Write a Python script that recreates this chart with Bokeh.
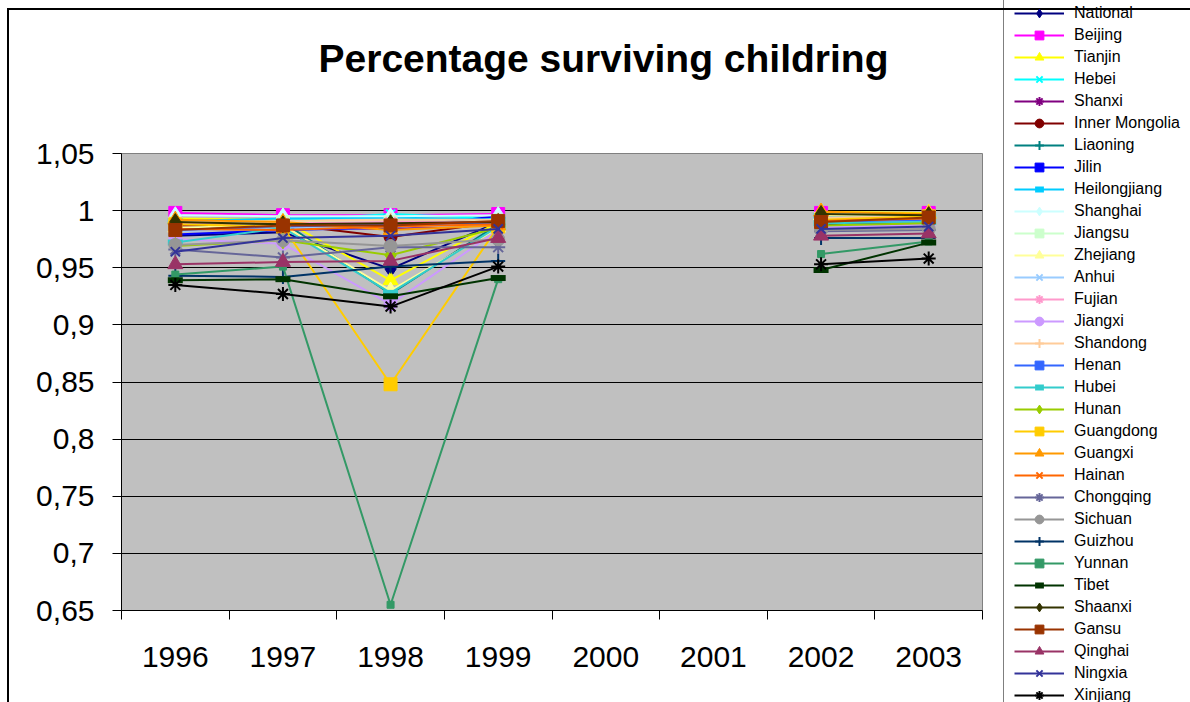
from bokeh.plotting import figure
from bokeh.layouts import row
from bokeh.models import Range1d, FixedTicker, Legend, LegendItem, Title
from bokeh.embed import file_html
from bokeh.resources import INLINE

nan = float("nan")

# Category axis (survey years) and value axis ticks
years = ["1996", "1997", "1998", "1999", "2000", "2001", "2002", "2003"]
y_ticks = [0.65, 0.7, 0.75, 0.8, 0.85, 0.9, 0.95, 1.0, 1.05]
y_tick_labels = ["0,65", "0,7", "0,75", "0,8", "0,85", "0,9", "0,95", "1", "1,05"]

# Share of children surviving, by region (no survey in 2000 and 2001)
national       = [0.978, 0.981, 0.949, 0.990, nan, nan, 0.988, 0.989]
beijing        = [0.998, 0.996, 0.996, 0.997, nan, nan, 0.998, 0.998]
tianjin        = [0.993, 0.992, 0.939, 0.990, nan, nan, 0.999, 0.998]
hebei          = [0.990, 0.991, 0.997, 0.993, nan, nan, 0.995, 0.996]
shanxi         = [0.985, 0.986, 0.984, 0.988, nan, nan, 0.990, 0.991]
inner_mongolia = [0.987, 0.988, 0.977, 0.990, nan, nan, 0.991, 0.992]
liaoning       = [0.984, 0.990, 0.927, 0.988, nan, nan, 0.994, 0.993]
jilin          = [0.979, 0.983, 0.985, 0.995, nan, nan, 0.993, 0.994]
heilongjiang   = [0.991, 0.993, 0.994, 0.992, nan, nan, 0.995, 0.995]
shanghai       = [0.996, 0.995, 0.995, 0.996, nan, nan, 0.997, 0.997]
jiangsu        = [0.989, 0.990, 0.990, 0.991, nan, nan, 0.993, 0.994]
zhejiang       = [0.985, 0.987, 0.930, 0.985, nan, nan, 0.996, 0.997]
anhui          = [0.982, 0.985, 0.986, 0.987, nan, nan, 0.990, 0.991]
fujian         = [0.988, 0.989, 0.990, 0.990, nan, nan, 0.992, 0.993]
jiangxi        = [0.975, 0.971, 0.918, 0.983, nan, nan, 0.985, 0.988]
shandong       = [0.990, 0.991, 0.992, 0.992, nan, nan, 0.994, 0.995]
henan          = [0.983, 0.986, 0.988, 0.989, nan, nan, 0.990, 0.992]
hubei          = [0.972, 0.985, 0.928, 0.986, nan, nan, 0.989, 0.990]
hunan          = [0.969, 0.974, 0.961, 0.985, nan, nan, 0.987, 0.989]
guangdong      = [0.988, 0.986, 0.848, 0.986, nan, nan, 0.992, 0.995]
guangxi        = [0.992, 0.990, 0.983, 0.987, nan, nan, 0.999, 0.997]
hainan         = [0.984, 0.983, 0.986, 0.988, nan, nan, 0.991, 0.993]
chongqing      = [0.966, 0.959, 0.968, 0.968, nan, nan, 0.982, 0.983]
sichuan        = [0.970, 0.974, 0.969, 0.975, nan, nan, 0.983, 0.984]
guizhou        = [0.943, 0.942, 0.951, 0.956, nan, nan, 0.976, 0.976]
yunnan         = [0.944, 0.951, 0.655, 0.940, nan, nan, 0.962, 0.973]
tibet          = [0.939, 0.940, 0.925, 0.941, nan, nan, 0.948, 0.972]
shaanxi        = [0.990, 0.988, 0.989, 0.990, nan, nan, 0.997, 0.996]
gansu          = [0.983, 0.987, 0.987, 0.991, nan, nan, 0.990, 0.994]
qinghai        = [0.953, 0.955, 0.956, 0.976, nan, nan, 0.978, 0.980]
ningxia        = [0.964, 0.976, 0.978, 0.984, nan, nan, 0.984, 0.986]
xinjiang       = [0.935, 0.927, 0.916, 0.951, nan, nan, 0.953, 0.958]

series = [
    ("National", national, "#000080", "diamond"),
    ("Beijing", beijing, "#FF00FF", "square"),
    ("Tianjin", tianjin, "#FFFF00", "triangle"),
    ("Hebei", hebei, "#00FFFF", "x"),
    ("Shanxi", shanxi, "#800080", "star"),
    ("Inner Mongolia", inner_mongolia, "#800000", "circle"),
    ("Liaoning", liaoning, "#008080", "plus"),
    ("Jilin", jilin, "#0000FF", "dot"),
    ("Heilongjiang", heilongjiang, "#00CCFF", "dash"),
    ("Shanghai", shanghai, "#CCFFFF", "diamond"),
    ("Jiangsu", jiangsu, "#CCFFCC", "square"),
    ("Zhejiang", zhejiang, "#FFFF99", "triangle"),
    ("Anhui", anhui, "#99CCFF", "x"),
    ("Fujian", fujian, "#FF99CC", "star"),
    ("Jiangxi", jiangxi, "#CC99FF", "circle"),
    ("Shandong", shandong, "#FFCC99", "plus"),
    ("Henan", henan, "#3366FF", "dot"),
    ("Hubei", hubei, "#33CCCC", "dash"),
    ("Hunan", hunan, "#99CC00", "diamond"),
    ("Guangdong", guangdong, "#FFCC00", "square"),
    ("Guangxi", guangxi, "#FF9900", "triangle"),
    ("Hainan", hainan, "#FF6600", "x"),
    ("Chongqing", chongqing, "#666699", "star"),
    ("Sichuan", sichuan, "#969696", "circle"),
    ("Guizhou", guizhou, "#003366", "plus"),
    ("Yunnan", yunnan, "#339966", "dot"),
    ("Tibet", tibet, "#003300", "dash"),
    ("Shaanxi", shaanxi, "#333300", "diamond"),
    ("Gansu", gansu, "#993300", "square"),
    ("Qinghai", qinghai, "#993366", "triangle"),
    ("Ningxia", ningxia, "#333399", "x"),
    ("Xinjiang", xinjiang, "#000000", "star"),
]

# marker kind -> (bokeh marker, size, outline width)
marker_styles = {
    "diamond": ("diamond", 17, 1),
    "square": ("square", 13, 1),
    "triangle": ("triangle", 15, 1),
    "x": ("x", 13, 2),
    "star": ("asterisk", 14, 2),
    "circle": ("circle", 13, 1),
    "plus": ("cross", 14, 2),
    "dot": ("square", 7, 1),
    "dash": ("dash", 15, 6),
}

FONT = "Liberation Sans"
x_pos = [i + 0.5 for i in range(len(years))]

# ---- main chart -------------------------------------------------------
p = figure(
    width=983, height=702,
    output_backend="svg", toolbar_location=None,
    x_range=Range1d(0, len(years)), y_range=Range1d(0.65, 1.05),
    min_border_left=121, min_border_right=1,
    min_border_top=153, min_border_bottom=92,
    background_fill_color="#C0C0C0", border_fill_alpha=0,
    outline_line_color="#808080", outline_line_width=1,
)
p.frame_align = False

# white chart area with a heavy black edge along its top and left sides
p.styles = {
    "background-color": "white",
    "background-image": "linear-gradient(#000, #000), linear-gradient(#000, #000)",
    "background-size": "2px 100%, 100% 2px",
    "background-position": "7px 8px, 7px 8px",
    "background-repeat": "no-repeat",
}

# empty gap between the title and the plot area
p.add_layout(Title(text=" ", text_font_size="1px", standoff=66), "above")

p.title.text = "Percentage surviving childring"
p.title.text_font = FONT
p.title.text_font_size = "39px"
p.title.text_font_style = "bold"
p.title.text_color = "black"
p.title.align = "left"
p.title.offset = 197
p.title.standoff = 10

p.xaxis.ticker = FixedTicker(ticks=x_pos, minor_ticks=list(range(len(years) + 1)))
p.xaxis.major_label_overrides = {x: lab for x, lab in zip(x_pos, years)}
p.xaxis.major_tick_out = 0
p.xaxis.major_tick_in = 0
p.xaxis.minor_tick_out = 9
p.xaxis.minor_tick_in = 0
p.xaxis.minor_tick_line_color = "black"
p.xaxis.major_label_standoff = 27

p.yaxis.ticker = FixedTicker(ticks=y_ticks, minor_ticks=[])
p.yaxis.major_label_overrides = {t: lab for t, lab in zip(y_ticks, y_tick_labels)}
p.yaxis.major_tick_out = 9
p.yaxis.major_tick_in = 0
p.yaxis.major_label_standoff = 18

for ax in (p.xaxis, p.yaxis):
    ax.axis_line_color = "black"
    ax.axis_line_width = 1
    ax.major_tick_line_color = "black"
    ax.major_label_text_font = FONT
    ax.major_label_text_font_size = "30px"
    ax.major_label_text_color = "black"

p.xgrid.visible = False
p.ygrid.ticker = FixedTicker(ticks=y_ticks[1:-1], minor_ticks=[])
p.ygrid.grid_line_color = "black"
p.ygrid.grid_line_width = 1

for name, vals, color, kind in series:
    mk, size, lw = marker_styles[kind]
    p.line(x_pos, vals, line_color=color, line_width=2)
    p.scatter(x_pos, vals, marker=mk, size=size, fill_color=color,
              line_color=color, line_width=lw)

# ---- legend panel -----------------------------------------------------
key = figure(
    width=207, height=702,
    output_backend="svg", toolbar_location=None,
    x_range=Range1d(0, 1), y_range=Range1d(0, 1),
    x_axis_type=None, y_axis_type=None, min_border=0,
    background_fill_alpha=0, border_fill_alpha=0, outline_line_color=None,
)
key.frame_align = False
key.styles = {
    "background-color": "white",
    "background-image": "linear-gradient(#000, #000)",
    "background-size": "100% 2px",
    "background-position": "0 8px",
    "background-repeat": "no-repeat",
}

items = []
for name, vals, color, kind in series:
    mk, size, lw = marker_styles[kind]
    lr = key.line([nan], [nan], line_color=color, line_width=2)
    sr = key.scatter([nan], [nan], marker=mk, size=size, fill_color=color,
                     line_color=color, line_width=lw)
    items.append(LegendItem(label=name, renderers=[lr, sr]))

legend = Legend(
    items=items,
    location=(20, -14.5),
    padding=10, spacing=0, margin=0,
    glyph_width=50, glyph_height=22, label_height=22, label_width=107,
    label_standoff=10,
    label_text_font=FONT, label_text_font_size="16px", label_text_color="black",
    background_fill_alpha=0, border_line_color="black", border_line_width=1,
)
key.add_layout(legend, "center")

layout = row(p, key)
open("out.html", "w").write(file_html(layout, INLINE))
